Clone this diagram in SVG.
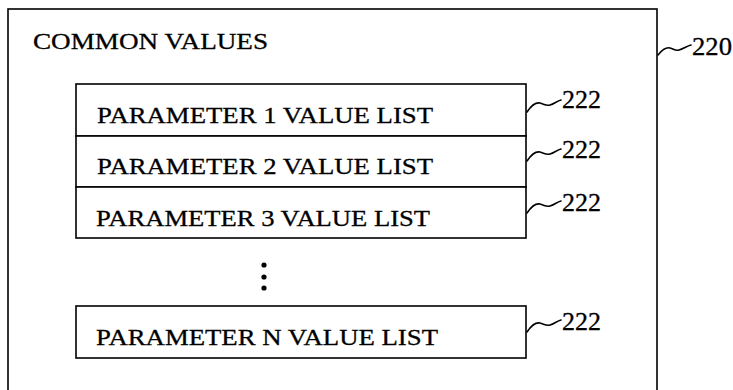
<svg xmlns="http://www.w3.org/2000/svg" width="733" height="390" viewBox="0 0 733 390">
  <style>
    .box { fill: #ffffff; stroke: #000000; stroke-width: 1.6; }
    .t { font-family: "Liberation Serif", "Times New Roman", serif; font-size: 24px; fill: #000000; stroke: #000000; stroke-width: 0.3; }
    .ref { font-family: "Liberation Serif", "Times New Roman", serif; font-size: 25px; fill: #000000; stroke: #000000; stroke-width: 0.3; }
    .sq { fill: none; stroke: #000000; stroke-width: 1.6; stroke-linecap: round; }
  </style>
  <rect width="733" height="390" fill="#ffffff"/>
  <g id="common-values">
    <rect class="box" x="8" y="9" width="649" height="390"/>
    <text class="t" x="33" y="49" textLength="235" lengthAdjust="spacingAndGlyphs">COMMON VALUES</text>
  </g>
  <g id="param-1">
    <rect class="box" x="76" y="84" width="450" height="52"/>
    <text class="t" x="97" y="123" textLength="336" lengthAdjust="spacingAndGlyphs">PARAMETER 1 VALUE LIST</text>
  </g>
  <g id="param-2">
    <rect class="box" x="76" y="136" width="450" height="51"/>
    <text class="t" x="97" y="174" textLength="336" lengthAdjust="spacingAndGlyphs">PARAMETER 2 VALUE LIST</text>
  </g>
  <g id="param-3">
    <rect class="box" x="76" y="187" width="450" height="51"/>
    <text class="t" x="96" y="226" textLength="334" lengthAdjust="spacingAndGlyphs">PARAMETER 3 VALUE LIST</text>
  </g>
  <g id="ellipsis">
    <circle cx="264" cy="265" r="2.6" fill="#000000"/>
    <circle cx="264" cy="277" r="2.6" fill="#000000"/>
    <circle cx="264" cy="288" r="2.6" fill="#000000"/>
  </g>
  <g id="param-n">
    <rect class="box" x="76" y="306" width="450" height="52"/>
    <text class="t" x="96" y="345" textLength="342" lengthAdjust="spacingAndGlyphs">PARAMETER N VALUE LIST</text>
  </g>
  <g id="connectors">
    <path class="sq" d="M658,55 C662,50 666,47 670,48 C674,49 675,51 679,50 C683,49 687,46 691,45"/>
    <path class="sq" d="M527,112 C531,106 535,102 540,103 C544,104 546,106 550,105 C554,104 557,101 561,100"/>
    <path class="sq" d="M527,161 C531,155 535,151 540,152 C544,153 546,155 550,154 C554,153 557,150 561,149"/>
    <path class="sq" d="M527,213 C531,207 535,203 540,204 C544,205 546,207 550,206 C554,205 557,202 561,201"/>
    <path class="sq" d="M527,332 C531,326 535,322 540,323 C544,324 546,326 550,325 C554,324 557,321 561,320"/>
  </g>
  <g id="labels">
    <text class="ref" x="692" y="55" font-size="26" textLength="40" lengthAdjust="spacingAndGlyphs">220</text>
    <text class="ref" x="562" y="108" textLength="39" lengthAdjust="spacingAndGlyphs">222</text>
    <text class="ref" x="562" y="158" textLength="39" lengthAdjust="spacingAndGlyphs">222</text>
    <text class="ref" x="562" y="211" textLength="39" lengthAdjust="spacingAndGlyphs">222</text>
    <text class="ref" x="562" y="330" textLength="39" lengthAdjust="spacingAndGlyphs">222</text>
  </g>
</svg>
